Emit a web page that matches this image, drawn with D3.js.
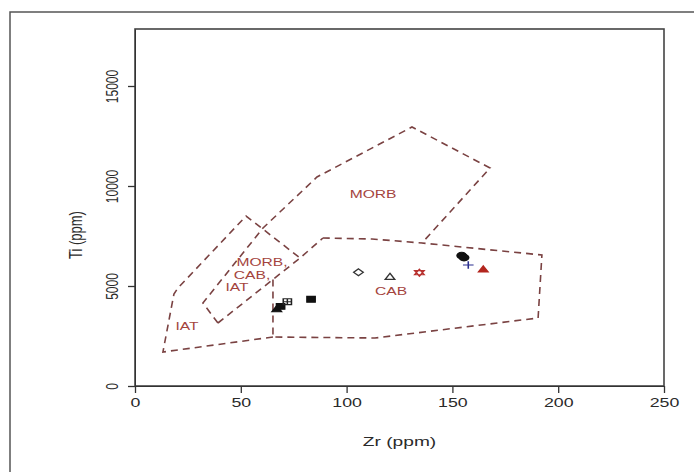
<!DOCTYPE html>
<html>
<head>
<meta charset="utf-8">
<script src="https://cdn.jsdelivr.net/npm/d3@7"></script>
<style>
  body { margin: 0; background: #fff; }
  text { font-family: "Liberation Sans", Arial, sans-serif; }
</style>
</head>
<body>
<div id="chart"></div>
<script>
// Ti-Zr discrimination diagram (Pearce & Cann style)

// axis ticks
var xTicks = [0, 50, 100, 150, 200, 250];
var yTicks = [0, 5000, 10000, 15000];

// field boundaries, [Zr, Ti]
var bndIAT = [[65.2, 2450], [13.2, 1700], [18.4, 4600], [20.3, 4900], [52.5, 8500], [78.0, 6400]];
var bndCABwest = [[39.2, 3150], [78.0, 6400], [88.8, 7400]];
var bndMORB = [[39.2, 3150], [32.1, 4150], [60.5, 7900], [86.0, 10450], [130.9, 12950], [167.8, 10900], [135.6, 7150]];
var bndCAB = [[65.2, 5330], [65.2, 2450], [113.4, 2400], [190.5, 3400], [192.3, 6550], [135.6, 7150], [112.0, 7350], [88.8, 7400]];

// field names
var fieldNames = ["MORB", "MORB,", "CAB,", "IAT", "IAT", "CAB"];
var fieldZr = [112.5, 60.0, 55.3, 48.2, 24.6, 121.0];
var fieldTi = [9600, 6200, 5550, 4950, 3000, 4750];

// samples
var sampleZr = [67.0, 68.8, 72.0, 83.2, 105.6, 120.5, 134.4, 154.4, 155.5, 157.5, 164.6];
var sampleTi = [3850, 3980, 4215, 4335, 5685, 5465, 5665, 6520, 6420, 6050, 5835];

// marker for each sample (same order)
var markerStyle = [
	{shape: "triFill", color: "#111"},
	{shape: "sqFill", color: "#111"},
	{shape: "sqPlus", color: "#222"},
	{shape: "sqFill", color: "#111"},
	{shape: "diamond", color: "#333"},
	{shape: "triOpen", color: "#333"},
	{shape: "star", color: "#b8322f"},
	{shape: "circFill", color: "#111"},
	{shape: "circFill", color: "#111"},
	{shape: "plus", color: "#2a2f8f"},
	{shape: "triFill", color: "#b3261e"}
];

var width = 694, height = 472;
var SX = 1.42; // the picture is stretched sideways
var yMax = 17850;

var svg = d3.select("#chart").append("svg")
	.attr("width", width)
	.attr("height", height);

svg.append("rect").attr("width", width).attr("height", height).attr("fill", "#fff");

// outer frame (only top and left edges are in view)
svg.append("rect")
	.attr("x", 10).attr("y", 12)
	.attr("width", 700).attr("height", 480)
	.attr("fill", "none")
	.attr("stroke", "#555")
	.attr("stroke-width", 1.5);

var x = d3.scaleLinear().domain([0, 250]).range([135, 664]);
var y = d3.scaleLinear().domain([0, yMax]).range([386, 29]);

// box
svg.append("rect")
	.attr("x", x(0)).attr("y", y(yMax))
	.attr("width", x(250) - x(0)).attr("height", y(0) - y(yMax))
	.attr("fill", "none")
	.attr("stroke", "#444")
	.attr("stroke-width", 1.6);

var xAxis = svg.append("g")
	.attr("transform", "translate(0," + y(0) + ")")
	.call(d3.axisBottom(x).tickValues(xTicks).tickFormat(d3.format("d")).tickSize(7).tickSizeOuter(0).tickPadding(5));
xAxis.select(".domain").attr("stroke", "#333");
xAxis.selectAll(".tick line").attr("stroke", "#333").attr("stroke-width", 1.3);
xAxis.selectAll(".tick text")
	.attr("font-size", 12.5)
	.attr("fill", "#2a2a2a")
	.attr("transform", "scale(" + SX + ",1)");

var yAxis = svg.append("g")
	.attr("transform", "translate(" + x(0) + ",0)")
	.call(d3.axisLeft(y).tickValues(yTicks).tickFormat(d3.format("d")).tickSize(7).tickSizeOuter(0));
yAxis.select(".domain").attr("stroke", "#333");
yAxis.selectAll(".tick line").attr("stroke", "#333").attr("stroke-width", 1.3);
yAxis.selectAll(".tick text")
	.attr("x", 0).attr("y", 0).attr("dy", null)
	.attr("text-anchor", "middle")
	.attr("font-size", 12)
	.attr("fill", "#2a2a2a")
	.attr("transform", "translate(-17,0) scale(" + SX + ",1) rotate(-90)");

svg.append("text")
	.attr("transform", "translate(" + ((x(0) + x(250)) / 2) + ",446) scale(" + SX + ",1)")
	.attr("text-anchor", "middle")
	.attr("font-size", 13.5)
	.attr("fill", "#2a2a2a")
	.text("Zr (ppm)");

svg.append("text")
	.attr("transform", "translate(82," + ((y(0) + y(15000)) / 2 - 1) + ") scale(" + SX + ",1) rotate(-90)")
	.attr("text-anchor", "middle")
	.attr("font-size", 13)
	.attr("fill", "#2a2a2a")
	.text("Ti (ppm)");

// field boundaries
var line = d3.line().x(function(d) {return x(d[0])}).y(function(d) {return y(d[1])});
[bndIAT, bndCABwest, bndMORB, bndCAB].forEach(function(b) {
	svg.append("path")
		.attr("d", line(b))
		.attr("fill", "none")
		.attr("stroke", "#7a4242")
		.attr("stroke-width", 1.6)
		.attr("stroke-dasharray", "7,5");
});

// field labels
fieldNames.forEach(function(t, i) {
	svg.append("text")
		.attr("transform", "translate(" + x(fieldZr[i]) + "," + y(fieldTi[i]) + ") scale(" + SX + ",1)")
		.attr("text-anchor", "middle")
		.attr("dy", "0.35em")
		.attr("font-size", 11)
		.attr("fill", "#a4443d")
		.text(t);
});

// marker paths at the origin
var r = 3.4;
function markerPath(shape) {
	if (shape == "triFill" || shape == "triOpen") return "M0," + (-r) + "L" + r + "," + (r * 0.8) + "L" + (-r) + "," + (r * 0.8) + "Z";
	if (shape == "sqFill") return "M" + (-r * 0.85) + "," + (-r * 0.85) + "h" + (r * 1.7) + "v" + (r * 1.7) + "h" + (-r * 1.7) + "Z";
	if (shape == "sqPlus") return "M" + (-r * 0.85) + "," + (-r * 0.85) + "h" + (r * 1.7) + "v" + (r * 1.7) + "h" + (-r * 1.7) + "Z" +
		"M0," + (-r * 0.85) + "V" + (r * 0.85) + "M" + (-r * 0.85) + ",0H" + (r * 0.85);
	if (shape == "diamond") return "M0," + (-r) + "L" + r + ",0L0," + r + "L" + (-r) + ",0Z";
	if (shape == "plus") return "M0," + (-r * 1.1) + "V" + (r * 1.1) + "M" + (-r * 1.1) + ",0H" + (r * 1.1);
	if (shape == "star") return "M0," + (-r) + "L" + r + "," + (r * 0.6) + "L" + (-r) + "," + (r * 0.6) + "Z" +
		"M0," + r + "L" + r + "," + (-r * 0.6) + "L" + (-r) + "," + (-r * 0.6) + "Z";
	return d3.symbol().type(d3.symbolCircle).size(34)();
}

sampleZr.forEach(function(zr, i) {
	var st = markerStyle[i];
	var filled = (st.shape == "triFill" || st.shape == "sqFill" || st.shape == "circFill");
	svg.append("path")
		.attr("d", markerPath(st.shape))
		.attr("transform", "translate(" + x(zr) + "," + y(sampleTi[i]) + ") scale(" + SX + ",1)")
		.attr("fill", filled ? st.color : "none")
		.attr("stroke", st.color)
		.attr("stroke-width", 1.1);
});
</script>
</body>
</html>
